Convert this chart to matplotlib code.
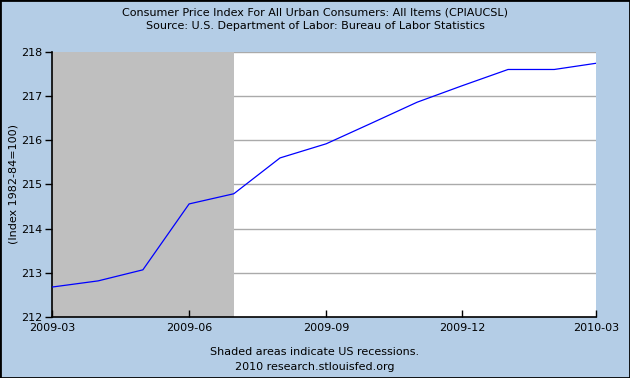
"""
CPI for all urban consumers, 2009-03 to 2010-03, FRED-style chart.
"""
import matplotlib
matplotlib.use("Agg")
import matplotlib.pyplot as plt
import numpy as np

months = [
    "2009-03", "2009-04", "2009-05", "2009-06", "2009-07", "2009-08", "2009-09",
    "2009-10", "2009-11", "2009-12", "2010-01", "2010-02", "2010-03",
]
cpi = [
    212.68, 212.82, 213.07, 214.56, 214.79, 215.60, 215.92,
    216.38, 216.86, 217.23, 217.60, 217.60, 217.74,
]
recession = ("2009-03", "2009-07")
xtick_labels = ["2009-03", "2009-06", "2009-09", "2009-12", "2010-03"]
yticks = [212, 213, 214, 215, 216, 217, 218]

BG = "#b4cde6"
plt.rcParams.update({"font.family": "DejaVu Sans", "font.size": 8})

dates = np.array(months, dtype="datetime64[D]")

fig = plt.figure(figsize=(6.3, 3.78), dpi=100, facecolor=BG)
ax = fig.add_axes([0.0825, 0.161, 0.8635, 0.702])
ax.set_facecolor("white")

# recession shading
ax.axvspan(np.datetime64(recession[0]), np.datetime64(recession[1]),
           color="#bfbfbf", zorder=1, lw=0)
for y in yticks[1:]:
    ax.axhline(y, color="#aaaaaa", lw=1.0, zorder=0.5)

ax.plot(dates, cpi, color="#0000ff", lw=0.9, zorder=3)

ax.set_xlim(dates[0], dates[-1])
ax.set_ylim(212, 218)
ax.set_yticks(yticks)
ax.set_xticks(np.array(xtick_labels, dtype="datetime64[D]"))
ax.set_xticklabels(xtick_labels)
ax.tick_params(axis="y", direction="out", length=5, width=1, pad=2, labelsize=8)
ax.tick_params(axis="x", direction="in", length=5, width=1, pad=4, labelsize=8)

for s in ["top", "right"]:
    ax.spines[s].set_visible(False)
for s in ["left", "bottom"]:
    ax.spines[s].set_linewidth(1.2)
    ax.spines[s].set_color("black")

ax.set_ylabel("(Index 1982-84=100)", fontsize=8, labelpad=2)

fig.text(0.5, 0.968, "Consumer Price Index For All Urban Consumers: All Items (CPIAUCSL)",
         ha="center", va="center", fontsize=8)
fig.text(0.5, 0.930, "Source: U.S. Department of Labor: Bureau of Labor Statistics",
         ha="center", va="center", fontsize=8)
fig.text(0.5, 0.069, "Shaded areas indicate US recessions.",
         ha="center", va="center", fontsize=8)
fig.text(0.5, 0.029, "2010 research.stlouisfed.org",
         ha="center", va="center", fontsize=8)

# dark frame round the image
fig.patches.append(plt.Rectangle((0, 0), 1, 1, transform=fig.transFigure,
                                 fill=False, ec="black", lw=2))

fig.savefig("out.png", dpi=100, facecolor=BG)
